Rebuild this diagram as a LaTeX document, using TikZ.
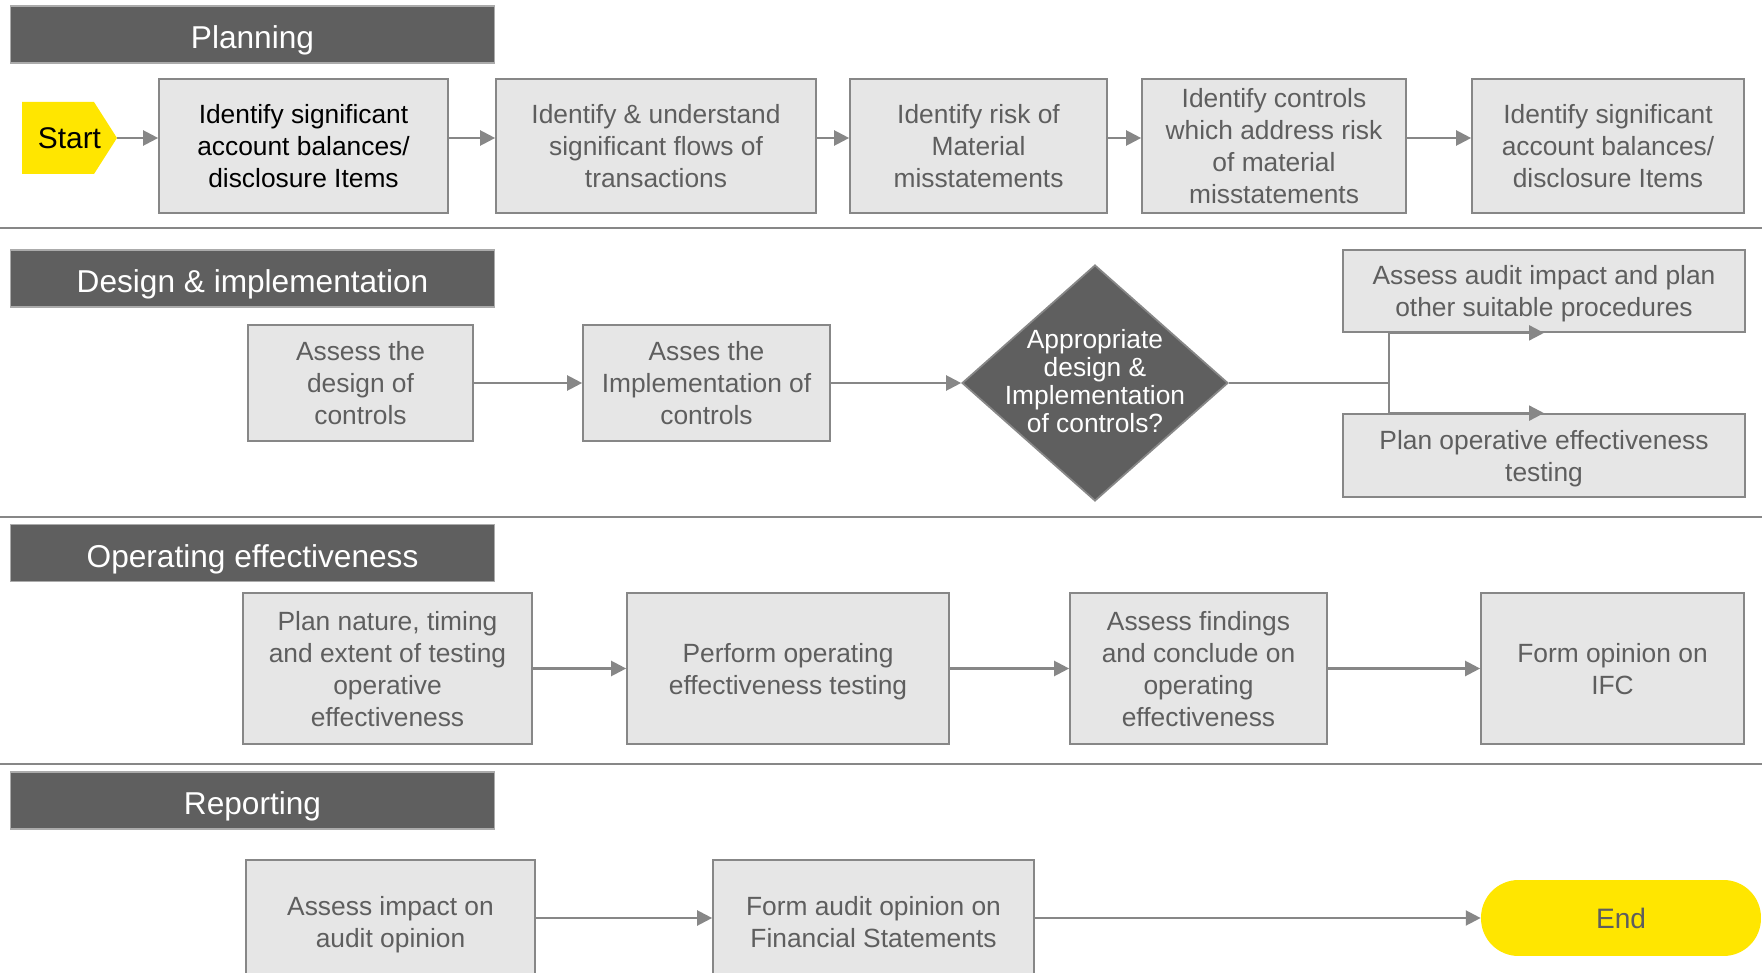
\documentclass[tikz,border=0pt]{standalone}
\usepackage{fontspec}
\setmainfont{Liberation Sans}
\usetikzlibrary{arrows.meta,shapes.geometric}

\definecolor{hdrgray}{HTML}{5F5F5F}
\definecolor{boxgray}{HTML}{E6E6E6}
\definecolor{linegray}{HTML}{878787}
\definecolor{txtgray}{HTML}{5E5E5E}
\definecolor{eyyellow}{HTML}{FFE600}

\tikzset{
    header/.style={fill=hdrgray, draw=linegray!70, line width=0.6pt, text=white,
        minimum width=9.7cm, minimum height=1.14cm, text height=16pt, text depth=0pt,
        font=\fontsize{18}{21}\selectfont},
    stepbox/.style={fill=boxgray, draw=linegray, line width=1pt, text=txtgray,
        align=center, inner sep=2pt, text depth=-2pt, font=\fontsize{15}{18.2}\selectfont},
    decision/.style={diamond, fill=hdrgray, draw=linegray, line width=1pt,
        minimum width=5.32cm, minimum height=4.72cm, inner sep=0pt},
    flow/.style={draw=linegray, line width=1.3pt, -{Triangle[length=8.5pt,width=8.5pt]}},
    lane/.style={draw=linegray, line width=1.6pt}
}

\begin{document}
\begin{tikzpicture}[x=0.02cm, y=-0.02cm]
    \clip (0,0) rectangle (1762,973);
    \fill[white] (0,0) rectangle (1762,973);

    % lane separators
    \draw[lane] (0,228) -- (1762,228);
    \draw[lane] (0,517) -- (1762,517);
    \draw[lane] (0,764) -- (1762,764);

    % Planning
    \node[header] (hplan) at (252.5,34.5) {Planning};
    \fill[eyyellow] (22,102) -- (94,102) -- (117,138) -- (94,174) -- (22,174) -- cycle;
    \node[minimum width=1.9cm, minimum height=1.44cm, inner sep=0pt,
          font=\fontsize{17}{20}\selectfont] (start) at (69.5,138) {Start};
    \node[stepbox, text=black, minimum width=5.78cm, minimum height=2.68cm] (p1) at (303.5,146)
        {Identify significant\\account balances/\\disclosure Items};
    \node[stepbox, minimum width=6.4cm, minimum height=2.68cm] (p2) at (656,146)
        {Identify \& understand\\significant flows of\\transactions};
    \node[stepbox, minimum width=5.14cm, minimum height=2.68cm] (p3) at (978.5,146)
        {Identify risk of\\Material\\misstatements};
    \node[stepbox, minimum width=5.28cm, minimum height=2.68cm] (p4) at (1274,146)
        {Identify controls\\which address risk\\of material\\misstatements};
    \node[stepbox, minimum width=5.44cm, minimum height=2.68cm] (p5) at (1608,146)
        {Identify significant\\account balances/\\disclosure Items};

    \draw[flow] (start.east) -- (p1.west |- start);
    \draw[flow] (p1.east |- start) -- (p2.west |- start);
    \draw[flow] (p2.east |- start) -- (p3.west |- start);
    \draw[flow] (p3.east |- start) -- (p4.west |- start);
    \draw[flow] (p4.east |- start) -- (p5.west |- start);

    % Design & implementation
    \node[header] (hdes) at (252.5,278.5) {Design \& implementation};
    \node[stepbox, minimum width=4.5cm, minimum height=2.32cm] (d1) at (360.5,383)
        {Assess the\\design of\\controls};
    \node[stepbox, minimum width=4.94cm, minimum height=2.32cm] (d2) at (706.5,383)
        {Asses the\\Implementation of\\controls};
    \node[decision] (dia) at (1095,383) {};
    \node[text=white, align=center, font=\fontsize{15}{15.8}\selectfont] (diatext) at (1095,381)
        {Appropriate\\design \&\\Implementation\\of controls?};
    \node[stepbox, minimum width=8.04cm, minimum height=1.64cm] (da) at (1544,291)
        {Assess audit impact and plan\\other suitable procedures};
    \node[stepbox, minimum width=8.04cm, minimum height=1.66cm] (db) at (1544,455.5)
        {Plan operative effectiveness\\testing};
    \coordinate (split) at (1389,383);

    \draw[flow] (d1) -- (d2);
    \draw[flow] (d2) -- (dia);
    \draw[flow, -] (dia.east) -- (split);
    \draw[flow] (split) |- (da.south);
    \draw[flow] (split) |- (db.north);

    % Operating effectiveness
    \node[header] (hop) at (252.5,553) {Operating effectiveness};
    \node[stepbox, minimum width=5.78cm, minimum height=3.02cm] (o1) at (387.5,668.5)
        {Plan nature, timing\\and extent of testing\\operative\\effectiveness};
    \node[stepbox, minimum width=6.44cm, minimum height=3.02cm] (o2) at (788,668.5)
        {Perform operating\\effectiveness testing};
    \node[stepbox, minimum width=5.14cm, minimum height=3.02cm] (o3) at (1198.5,668.5)
        {Assess findings\\and conclude on\\operating\\effectiveness};
    \node[stepbox, minimum width=5.26cm, minimum height=3.02cm] (o4) at (1612.5,668.5)
        {Form opinion on\\IFC};

    \draw[flow] (o1) -- (o2);
    \draw[flow] (o2) -- (o3);
    \draw[flow] (o3) -- (o4);

    % Reporting
    \node[header] (hrep) at (252.5,800.5) {Reporting};
    \node[stepbox, minimum width=5.78cm, minimum height=2.46cm] (r1) at (390.5,921.5)
        {Assess impact on\\audit opinion};
    \node[stepbox, minimum width=6.42cm, minimum height=2.46cm] (r2) at (873.5,921.5)
        {Form audit opinion on\\Financial Statements};
    \node[rectangle, rounded corners=0.75cm, fill=eyyellow, text=txtgray, minimum width=5.6cm,
          minimum height=1.52cm, font=\fontsize{16}{19}\selectfont] (end) at (1621,918) {End};

    \draw[flow] (r1.east |- end) -- (r2.west |- end);
    \draw[flow] (r2.east |- end) -- (end);
\end{tikzpicture}
\end{document}
